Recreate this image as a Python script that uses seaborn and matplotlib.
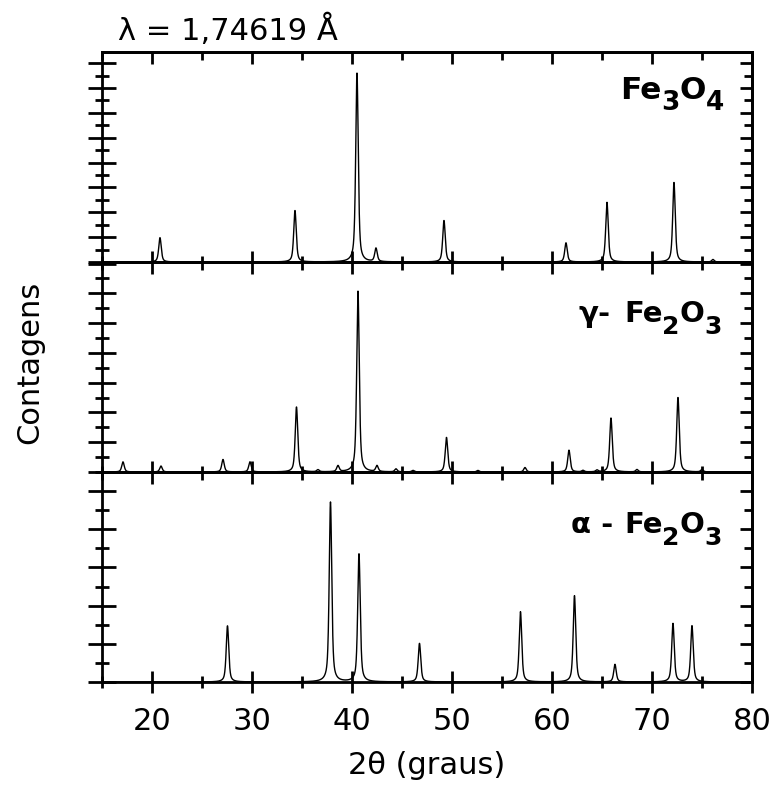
import numpy as np
import pandas as pd
import matplotlib
matplotlib.use("Agg")
import matplotlib.pyplot as plt
from matplotlib.ticker import MultipleLocator
import seaborn as sns

# peak positions (2theta, deg) and heights (in units of one major y tick)
fe3o4_pos = [20.8, 34.3, 40.5, 42.4, 49.2, 61.4, 65.5, 72.2, 76.1]
fe3o4_int = [0.98, 2.07, 7.6, 0.54, 1.67, 0.77, 2.4, 3.2, 0.1]

gfe2o3_pos = [17.1, 20.9, 27.1, 29.8, 34.45, 36.6, 38.6, 40.6, 42.5, 44.4, 46.1,
              49.45, 52.6, 57.3, 61.7, 63.1, 64.5, 65.9, 68.5, 72.6, 75.0]
gfe2o3_int = [0.34, 0.2, 0.42, 0.34, 2.18, 0.07, 0.2, 6.07, 0.2, 0.1, 0.05,
              1.16, 0.05, 0.15, 0.73, 0.05, 0.06, 1.81, 0.08, 2.5, 0.08]

afe2o3_pos = [27.55, 37.85, 40.7, 46.75, 56.85, 62.25, 66.3, 72.1, 74.0]
afe2o3_int = [1.47, 4.71, 3.35, 1.01, 1.84, 2.26, 0.46, 1.53, 1.47]

# phase names: prefix + (text, is_subscript) pieces
phase_prefix = ['', 'γ-', 'α -']
phase_parts = [[('Fe', False), ('3', True), ('O', False), ('4', True)],
               [('Fe', False), ('2', True), ('O', False), ('3', True)],
               [('Fe', False), ('2', True), ('O', False), ('3', True)]]
y_tops = [8.45, 7.05, 5.5]   # panel heights in major-tick units
x_ticks = [20, 30, 40, 50, 60, 70, 80]

two_theta = np.arange(15, 80.0001, 0.01)


def pattern(pos, inten, fwhm=0.3, eta=0.6):
    # pseudo-Voigt peak shape around each measured peak
    y = np.zeros_like(two_theta)
    for p, h in zip(pos, inten):
        d = two_theta - p
        lor = 1.0 / (1.0 + (2 * d / fwhm) ** 2)
        gau = np.exp(-4 * np.log(2) * (d / fwhm) ** 2)
        y += h * (eta * lor + (1 - eta) * gau)
    return y


def chem_label(ax, x, y, parts, size, sub_size, sub_drop):
    first = ax.text(x, y, parts[0][0], transform=ax.transAxes, ha='left', va='baseline',
                    fontsize=size, fontweight='bold', color='black')
    prev = first
    for s, is_sub in parts[1:]:
        prev = ax.annotate(s, xy=(1, 0), xycoords=(prev, first),
                           xytext=(0, -sub_drop if is_sub else 0), textcoords='offset points',
                           ha='left', va='bottom', fontsize=sub_size if is_sub else size,
                           fontweight='bold', color='black')
    return first


sns.set_style("ticks")
plt.rcParams['font.family'] = ['DejaVu Sans']
plt.rcParams.update({'text.color': 'black', 'axes.edgecolor': 'black',
                     'xtick.color': 'black', 'ytick.color': 'black',
                     'axes.labelcolor': 'black'})

fig, axes = plt.subplots(3, 1, figsize=(7.75, 7.92), dpi=100, sharex=True)
fig.subplots_adjust(left=0.1316, right=0.9703, bottom=0.1389, top=0.9343, hspace=0)

series = [(fe3o4_pos, fe3o4_int), (gfe2o3_pos, gfe2o3_int), (afe2o3_pos, afe2o3_int)]
# (left of "Fe", baseline, right of prefix, size, subscript size)
label_pos = [(0.797, 0.775, 0.0, 22.5, 19),
             (0.803, 0.714, 0.782, 21, 18),
             (0.803, 0.711, 0.786, 21, 18)]

for i, ax in enumerate(axes):
    pos, inten = series[i]
    df = pd.DataFrame({'two_theta': two_theta, 'counts': pattern(pos, inten)})
    sns.lineplot(data=df, x='two_theta', y='counts', ax=ax, color='black',
                 linewidth=1.0, estimator=None)
    ax.set_xlim(15, 80)
    ax.set_ylim(0, y_tops[i])
    ax.set_xlabel('')
    ax.set_ylabel('')
    for s in ax.spines.values():
        s.set_linewidth(2.0)
        s.set_visible(True)

    ax.xaxis.set_major_locator(MultipleLocator(10))
    ax.xaxis.set_minor_locator(MultipleLocator(5))
    ax.yaxis.set_major_locator(MultipleLocator(1))
    ax.yaxis.set_minor_locator(MultipleLocator(0.5))
    ax.tick_params(axis='y', which='major', direction='inout', length=20, width=2.0,
                   left=True, right=False, labelleft=False)
    ax.tick_params(axis='y', which='minor', direction='inout', length=10.3, width=2.0,
                   left=True, right=False)
    ax.tick_params(axis='x', which='major', direction='inout', length=16, width=2.0,
                   bottom=True, top=False, labelsize=22, pad=10,
                   labelbottom=(i == 2))
    ax.tick_params(axis='x', which='minor', direction='inout', length=9, width=2.0,
                   bottom=True, top=False)

    # inward ticks on the right and top sides
    secy = ax.secondary_yaxis('right')
    secy.yaxis.set_major_locator(MultipleLocator(1))
    secy.yaxis.set_minor_locator(MultipleLocator(0.5))
    secy.tick_params(which='major', direction='in', length=8.6, width=2.0, labelright=False)
    secy.tick_params(which='minor', direction='in', length=5.8, width=2.0)
    secy.spines['right'].set_linewidth(2.0)

    secx = ax.secondary_xaxis('top')
    secx.xaxis.set_major_locator(MultipleLocator(10))
    secx.xaxis.set_minor_locator(MultipleLocator(5))
    secx.tick_params(which='major', direction='in', length=8.6, width=2.0, labeltop=False)
    secx.tick_params(which='minor', direction='in', length=5.8, width=2.0)
    secx.spines['top'].set_linewidth(2.0)

    lx, ly, px, fs, sfs = label_pos[i]
    chem_label(ax, lx, ly, phase_parts[i], fs, sfs, 8)
    if phase_prefix[i]:
        ax.text(px, ly, phase_prefix[i], transform=ax.transAxes, ha='right', va='baseline',
                fontsize=fs, fontweight='bold', color='black')

axes[2].set_xticks(x_ticks)
axes[2].set_xticklabels([str(t) for t in x_ticks])

fig.text(0.294, 0.962, 'λ = 1,74619 Å', ha='center', va='center', fontsize=22)
fig.text(0.551, 0.034, '2θ (graus)', ha='center', va='center', fontsize=22)
fig.text(0.039, 0.542, 'Contagens', ha='center', va='center', rotation=90, fontsize=22)

fig.savefig('out.png', dpi=100)
